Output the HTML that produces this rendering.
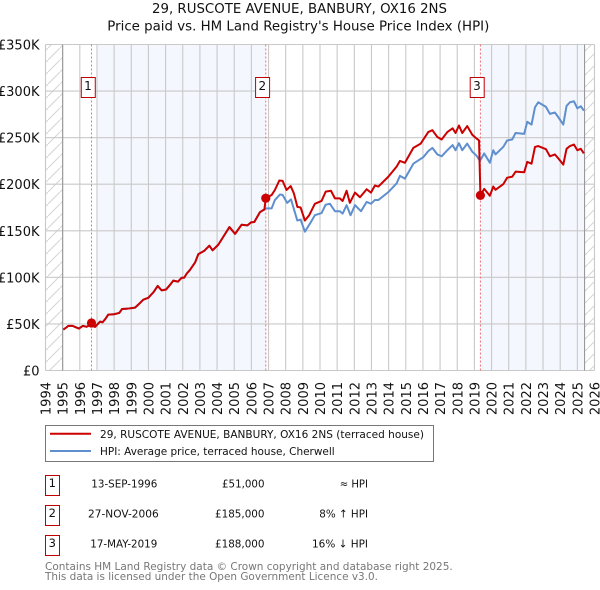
<!DOCTYPE html>
<html>
<head>
<meta charset="utf-8">
<title>29, RUSCOTE AVENUE, BANBURY, OX16 2NS</title>
<style>
html,body{margin:0;padding:0;background:#fff;width:600px;height:590px;overflow:hidden}
svg{display:block;font-family:"DejaVu Sans","Liberation Sans",sans-serif}
text{fill:#111}
</style>
</head>
<body>
<svg id="chart" width="600" height="590" viewBox="0 0 600 590" xmlns="http://www.w3.org/2000/svg">
  <defs>
    <pattern id="hatch" width="12" height="12" patternUnits="userSpaceOnUse">
      <line x1="0" y1="12" x2="12" y2="0" stroke="#d4d4d4" stroke-width="1"/>
    </pattern>
  </defs>
  <text x="152" y="13" font-size="13" textLength="295" lengthAdjust="spacingAndGlyphs">29, RUSCOTE AVENUE, BANBURY, OX16 2NS</text>
  <text x="107.3" y="30.5" font-size="13" textLength="382" lengthAdjust="spacingAndGlyphs">Price paid vs. HM Land Registry's House Price Index (HPI)</text>

  <g id="bands"></g>
  <g id="hatches"></g>
  <g id="grid"></g>
  <g id="ylabels"></g>
  <g id="xlabels"></g>
  <g id="vlines"></g>
  <g id="series"></g>
  <g id="points"></g>
  <g id="flags"></g>

  <g>
    <rect x="45.5" y="425.5" width="388" height="36" fill="#fff" stroke="#777" stroke-width="1"/>
    <line x1="50" y1="433.7" x2="91" y2="433.7" stroke="#cc0000" stroke-width="2"/>
    <text x="100" y="438" font-size="11" textLength="324" lengthAdjust="spacingAndGlyphs">29, RUSCOTE AVENUE, BANBURY, OX16 2NS (terraced house)</text>
    <line x1="50" y1="451" x2="91" y2="451" stroke="#5f8fce" stroke-width="2"/>
    <text x="100" y="455" font-size="11" textLength="234.7" lengthAdjust="spacingAndGlyphs">HPI: Average price, terraced house, Cherwell</text>
  </g>

  <g>
    <g>
      <rect x="45.5" y="475.5" width="14" height="20" fill="#fff" stroke="#c00000" stroke-width="1"/>
      <text x="52.3" y="487" font-size="11.5" text-anchor="middle">1</text>
      <text x="91.3" y="487.3" font-size="11" textLength="66" lengthAdjust="spacingAndGlyphs">13-SEP-1996</text>
      <text x="222" y="487.3" font-size="11" textLength="42.5" lengthAdjust="spacingAndGlyphs">£51,000</text>
      <text x="339.7" y="487.3" font-size="11" textLength="28.3" lengthAdjust="spacingAndGlyphs">≈ HPI</text>
    </g>
    <g>
      <rect x="45.5" y="505.5" width="14" height="20" fill="#fff" stroke="#c00000" stroke-width="1"/>
      <text x="52.3" y="517" font-size="11.5" text-anchor="middle">2</text>
      <text x="88" y="517.3" font-size="11" textLength="70.7" lengthAdjust="spacingAndGlyphs">27-NOV-2006</text>
      <text x="215" y="517.3" font-size="11" textLength="49.5" lengthAdjust="spacingAndGlyphs">£185,000</text>
      <text x="319.3" y="517.3" font-size="11" textLength="48.7" lengthAdjust="spacingAndGlyphs">8% ↑ HPI</text>
    </g>
    <g>
      <rect x="45.5" y="535.5" width="14" height="20" fill="#fff" stroke="#c00000" stroke-width="1"/>
      <text x="52.3" y="547" font-size="11.5" text-anchor="middle">3</text>
      <text x="90.3" y="547.3" font-size="11" textLength="67" lengthAdjust="spacingAndGlyphs">17-MAY-2019</text>
      <text x="215" y="547.3" font-size="11" textLength="49.5" lengthAdjust="spacingAndGlyphs">£188,000</text>
      <text x="312" y="547.3" font-size="11" textLength="56" lengthAdjust="spacingAndGlyphs">16% ↓ HPI</text>
    </g>
  </g>

  <text x="45" y="570" font-size="11" textLength="407.7" lengthAdjust="spacingAndGlyphs" style="fill:#777">Contains HM Land Registry data © Crown copyright and database right 2025.</text>
  <text x="45" y="580" font-size="11" textLength="333" lengthAdjust="spacingAndGlyphs" style="fill:#777">This data is licensed under the Open Government Licence v3.0.</text>
</svg>

<script>
var yearTicks = [1994,1995,1996,1997,1998,1999,2000,2001,2002,2003,2004,2005,2006,2007,2008,2009,2010,2011,2012,2013,2014,2015,2016,2017,2018,2019,2020,2021,2022,2023,2024,2025,2026];
var valueTicks = [0,50,100,150,200,250,300,350];
var valueTickLabels = ["£0","£50K","£100K","£150K","£200K","£250K","£300K","£350K"];

var hpiYears = [1995.04,1995.2,1995.33,1995.58,1995.72,1995.95,1996.17,1996.4,1996.63,1996.89,1997.18,1997.33,1997.49,1997.66,1997.99,1998.3,1998.46,1998.83,1999.22,1999.51,1999.7,1999.99,2000.29,2000.54,2000.77,2001.03,2001.26,2001.45,2001.72,2001.94,2002.08,2002.23,2002.42,2002.72,2002.91,2003.26,2003.55,2003.74,2004.07,2004.31,2004.72,2005.05,2005.43,2005.77,2005.98,2006.17,2006.5,2006.76,2006.85,2007.18,2007.37,2007.67,2007.82,2008.09,2008.31,2008.5,2008.68,2008.87,2009.12,2009.41,2009.7,2010.09,2010.33,2010.58,2010.87,2011.16,2011.32,2011.55,2011.78,2012.04,2012.39,2012.72,2012.97,2013.2,2013.4,2013.98,2014.47,2014.66,2014.95,2015.44,2016.02,2016.31,2016.55,2016.84,2017.09,2017.42,2017.73,2017.9,2018.1,2018.29,2018.58,2018.88,2019.13,2019.32,2019.57,2019.9,2020.1,2020.23,2020.68,2020.91,2021.2,2021.4,2021.9,2022.08,2022.33,2022.53,2022.72,2023.17,2023.4,2023.69,2023.89,2024.18,2024.37,2024.57,2024.8,2025,2025.2,2025.38];
var hpiValues = [44,46,47.9,47.9,46.8,45,47.9,47,49,46.8,52.5,51.8,55.4,60,60.4,61.8,66,66.5,67.5,72.5,76,78,84,90.8,86,87,92,96.5,95.4,99.6,99.6,104,108,116,125,128.6,134,129,135,142,154,146.7,156.5,155.8,159,159.4,170,173,174,174,183,189,188.4,180,183.7,172,161,162,149,157.6,166.7,169,178,179,171,171,168.5,177.5,166.7,177.5,171,181,179,183,183,191.5,201,209,206,222,229,235.5,239,232,230,236.5,242,236.5,244,236.5,243.6,234.8,230.5,225,233,223,236.5,232,240,247,248,255,254,267,264,282.6,288,283,275.5,277,272,264,284,288,289,281.5,283.7,279];

var paidYears = [1995.04,1995.2,1995.33,1995.58,1995.72,1995.95,1996.17,1996.4,1996.63,1996.89,1997.18,1997.33,1997.49,1997.66,1997.99,1998.3,1998.46,1998.83,1999.22,1999.51,1999.7,1999.99,2000.29,2000.54,2000.77,2001.03,2001.26,2001.45,2001.72,2001.94,2002.08,2002.23,2002.42,2002.72,2002.91,2003.26,2003.55,2003.74,2004.07,2004.31,2004.72,2005.05,2005.43,2005.77,2005.98,2006.17,2006.5,2006.76,2006.84,2007.18,2007.37,2007.63,2007.82,2008.05,2008.29,2008.48,2008.68,2008.87,2009.12,2009.37,2009.7,2010.09,2010.33,2010.64,2010.87,2011.16,2011.32,2011.55,2011.74,2012.04,2012.33,2012.72,2012.97,2013.2,2013.4,2013.98,2014.47,2014.66,2014.95,2015.44,2015.87,2016.31,2016.55,2016.84,2017.09,2017.42,2017.73,2017.9,2018.1,2018.29,2018.58,2018.88,2019.13,2019.27,2019.35,2019.57,2019.9,2020.1,2020.23,2020.68,2020.91,2021.2,2021.4,2021.9,2022.08,2022.33,2022.53,2022.72,2023.17,2023.4,2023.69,2023.89,2024.18,2024.37,2024.57,2024.8,2025,2025.2,2025.38];
var paidValues = [44,46,47.9,47.9,46.8,45,47.9,47,49,46.8,52.5,51.8,55.4,60,60.4,61.8,66,66.5,67.5,72.5,76,78,84,90.8,86,87,92,96.5,95.4,99.6,99.6,104,108,116,125,128.6,134,129,135,142,154,146.7,156.5,155.8,159,159.4,170,173,185,188.4,193.8,204,203.6,193.8,198,190,175.7,175,161,166.7,179,182,192,193,184.8,184.8,182,193,180,191,186,194.6,191,198.6,197.5,208,219,225,223,239,243.6,256,258,250.7,248,256,260,255,263,255,262.4,253,249,247,188,195,187.6,197.5,194,200,207,208,213.5,212.8,224,222,240,241,237.6,230,232,227.7,221,238,241,242.6,236.5,238,233];

var saleYears = [1996.68,2006.84,2019.35];
var saleValues = [51,185,188];
var saleLabels = ["1","2","3"];
var bandStarts = [1997,2006.84,2019.35];
var bandEnds = [2006.84,2006.84,2025.42];

var NS = "http://www.w3.org/2000/svg";
var plotLeft = 45.5, plotRight = 594.5, plotTop = 44.5, plotBottom = 370.5;
var dataStart = 1995, dataEnd = 2025.42;

function xScale(year) {
  return plotLeft + (year - 1994) * (plotRight - plotLeft) / 32;
}
function yScale(value) {
  return plotBottom - value * (plotBottom - plotTop) / 350;
}
function make(parent, tag, attrs) {
  var el = document.createElementNS(NS, tag);
  for (var k in attrs) { el.setAttribute(k, attrs[k]); }
  document.getElementById(parent).appendChild(el);
  return el;
}
function pointsOf(xs, ys) {
  return xs.map(function (x, i) { return xScale(x).toFixed(2) + "," + yScale(ys[i]).toFixed(2); }).join(" ");
}

bandStarts.forEach(function (start, i) {
  if (bandEnds[i] <= start) { return; }
  var band = make("bands", "rect", {x: xScale(start), y: plotTop, width: xScale(bandEnds[i]) - xScale(start), height: plotBottom - plotTop, fill: "#f4f7fe"});
  
  
});

var hatchLeft = make("hatches", "rect", {x: plotLeft, y: plotTop, width: xScale(dataStart) - plotLeft, height: plotBottom - plotTop, fill: "url(#hatch)"});


var hatchRight = make("hatches", "rect", {x: xScale(dataEnd), y: plotTop, width: plotRight - xScale(dataEnd), height: plotBottom - plotTop, fill: "url(#hatch)"});



yearTicks.forEach(function (year) {
  var line = make("grid", "line", {x1: xScale(year), x2: xScale(year), y1: plotTop, y2: plotBottom, stroke: "#c9c9c9", "stroke-width": 1.1});
  
  
  var x = xScale(year) + 5;
  var label = make("xlabels", "text", {x: x, y: 382, "font-size": 13, "text-anchor": "end", transform: "rotate(-90 " + x + " 382)"});
  
  
  label.textContent = year;
});

valueTicks.forEach(function (value, i) {
  var line = make("grid", "line", {x1: plotLeft, x2: plotRight, y1: yScale(value), y2: yScale(value), stroke: "#c9c9c9", "stroke-width": 1.1});
  
  
  var label = make("ylabels", "text", {x: 39.5, y: yScale(value) + 5, "font-size": 13, "text-anchor": "end"});
  
  
  label.textContent = valueTickLabels[i];
});

var edgeLeft = make("grid", "line", {x1: xScale(dataStart), x2: xScale(dataStart), y1: plotTop, y2: plotBottom, stroke: "#999", "stroke-width": 1.1});


var edgeRight = make("grid", "line", {x1: xScale(dataEnd), x2: xScale(dataEnd), y1: plotTop, y2: plotBottom, stroke: "#999", "stroke-width": 1.1});



saleYears.forEach(function (year) {
  var line = make("vlines", "line", {x1: xScale(year), x2: xScale(year), y1: plotTop, y2: plotBottom, stroke: "#f07070", "stroke-width": 1, "stroke-dasharray": "2 2"});
  
  
});

var hpiLine = make("series", "polyline", {points: pointsOf(hpiYears, hpiValues), fill: "none", stroke: "#5f8fce", "stroke-width": 2, "stroke-linejoin": "round"});


var paidLine = make("series", "polyline", {points: pointsOf(paidYears, paidValues), fill: "none", stroke: "#cc0000", "stroke-width": 2, "stroke-linejoin": "round"});



saleYears.forEach(function (year, i) {
  var dot = make("points", "circle", {cx: xScale(year), cy: yScale(saleValues[i]), r: 4.6, fill: "#cc0000"});
  
  
  var cx = xScale(year) - 3.2;
  var box = make("flags", "rect", {x: cx - 7, y: 77.5, width: 14, height: 20, fill: "#fff", stroke: "#c00000", "stroke-width": 1});
  
  
  var label = make("flags", "text", {x: cx - 0.3, y: 90, "font-size": 12, "text-anchor": "middle"});
  
  
  label.textContent = saleLabels[i];
});
</script>
</body>
</html>
